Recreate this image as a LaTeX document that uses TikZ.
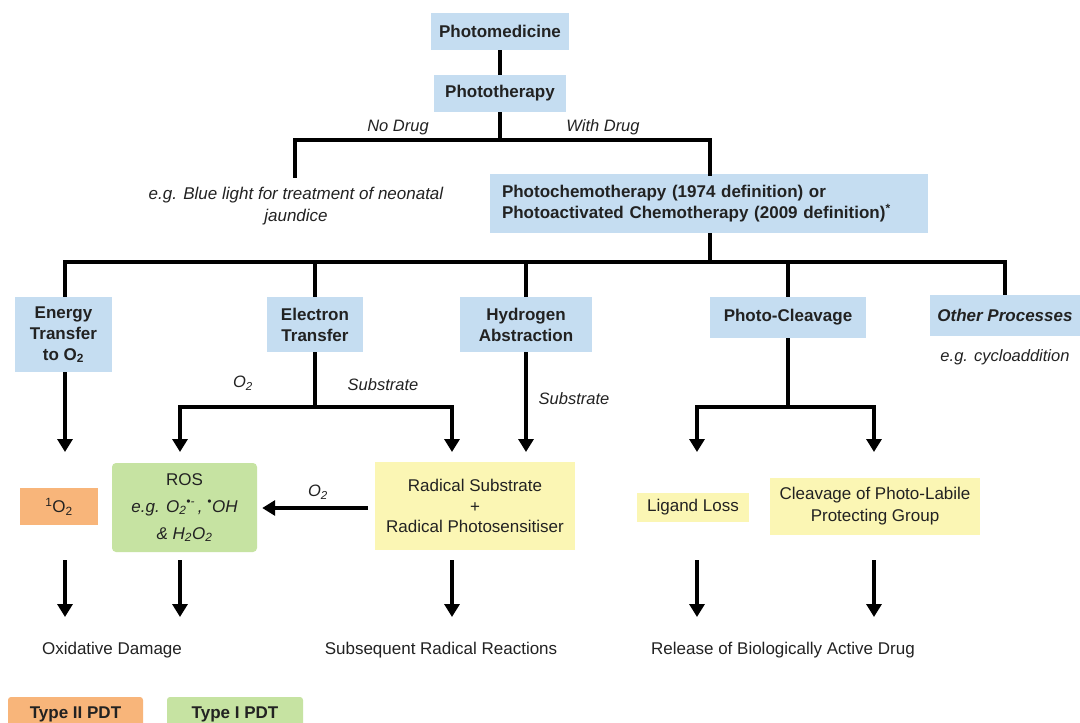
\documentclass[tikz,border=0pt]{standalone}
\usepackage{fontspec}
\setmainfont{Liberation Sans}
\usetikzlibrary{arrows.meta}
\definecolor{boxblue}{HTML}{C5DDF1}
\definecolor{boxorange}{HTML}{F8B57A}
\definecolor{boxgreen}{HTML}{C6E3A2}
\definecolor{boxyellow}{HTML}{FBF6B4}
\definecolor{txt}{HTML}{222222}
\begin{document}
\begin{tikzpicture}[x=1pt,y=-1pt,
  bx/.style={inner sep=0pt, align=center, text=txt, font=\fontsize{17}{21}\selectfont\bfseries},
  bluebox/.style={bx, fill=boxblue},
  plain/.style={inner sep=0pt, align=center, text=txt, font=\fontsize{17}{22}\selectfont},
  lab/.style={inner sep=0pt, text=txt, font=\fontsize{16.5}{20}\selectfont\itshape},
  ln/.style={line width=3.5pt, draw=black},
  arr/.style={ln, -{Triangle[length=13pt,width=15pt]}},
]
\useasboundingbox[fill=white] (0,0) rectangle (1080,723);

% top level
\node[bluebox, minimum width=138pt, minimum height=37pt] (pm) at (500,31.5) {Photomedicine};
\node[bluebox, minimum width=132pt, minimum height=37pt] (pt) at (500,93.5) {Phototherapy};
\node[plain, font=\fontsize{17}{22}\selectfont\itshape] (blue) at (296,206) {e.g. Blue light for treatment of neonatal\\jaundice};
\node[bluebox, align=left, text width=414pt, inner xsep=12pt, minimum height=59pt] (pc) at (709,203.5)
  {Photochemotherapy (1974 definition) or\\Photoactivated Chemotherapy (2009 definition)\textsuperscript{*}};

\draw[ln] (pm) -- (pt);
\coordinate (b1L) at (295,140);
\coordinate (b1R) at (710,140);
\coordinate (b1E) at (295,176);
\draw[ln] (pt.south) -- (pt.south |- b1L);
\draw[ln, line cap=rect] (b1E) -- (b1L) -- (b1R) -- (pc.north -| b1R);
\node[lab] (nodrug) at (398,128) {No Drug};
\node[lab] (withdrug) at (603,127) {With Drug};

% second level
\node[bluebox, minimum width=97pt, minimum height=75pt] (en) at (63.5,334.5) {Energy\\Transfer\\to O\textsubscript{2}};
\node[bluebox, minimum width=96pt, minimum height=55pt] (et) at (315,324.5) {Electron\\Transfer};
\node[bluebox, minimum width=132pt, minimum height=55pt] (ha) at (526,324.5) {Hydrogen\\Abstraction};
\node[bluebox, minimum width=156pt, minimum height=41pt] (pcl) at (788,317.5) {Photo-Cleavage};
\node[bluebox, font=\fontsize{17}{21}\selectfont\bfseries\itshape, minimum width=150pt, minimum height=41pt] (op) at (1005,315.5) {Other Processes};
\node[lab] (cyc) at (1005,357) {e.g. cycloaddition};

\coordinate (b2L) at (65,262);
\coordinate (b2R) at (1005,262);
\draw[ln] (pc.south -| b1R) -- (b1R |- b2L);
\draw[ln, line cap=rect] (b2L) -- (b2R);
\draw[ln] (b2L) -- (b2L |- en.north);
\draw[ln] (et.north |- b2L) -- (et.north);
\draw[ln] (ha.north |- b2L) -- (ha.north);
\draw[ln] (pcl.north |- b2L) -- (pcl.north);
\draw[ln] (b2R) -- (b2R |- op.north);

% third level nodes
\node[bx, fill=boxorange, font=\fontsize{17}{21}\selectfont, minimum width=78pt, minimum height=37pt] (so) at (59,506.5) {\textsuperscript{1}O\textsubscript{2}};
\node[bx, fill=boxgreen, rounded corners=4pt, font=\fontsize{17}{27}\selectfont, minimum width=145pt, minimum height=89pt] (ros) at (184.5,507.5)
  {ROS\\\textit{e.g. O\textsubscript{2}\textsuperscript{•-}\,, \textsuperscript{•}OH}\\\textit{\& H\textsubscript{2}O\textsubscript{2}}};
\node[bx, fill=boxyellow, font=\fontsize{17}{20.5}\selectfont, minimum width=200pt, minimum height=88pt] (rad) at (475,506)
  {Radical Substrate\\+\\Radical Photosensitiser};
\node[bx, fill=boxyellow, font=\fontsize{17}{21}\selectfont, minimum width=112pt, minimum height=29pt] (lig) at (693,507.5) {Ligand Loss};
\node[bx, fill=boxyellow, font=\fontsize{17}{22}\selectfont, minimum width=210pt, minimum height=57pt] (clv) at (875,506.5) {Cleavage of Photo-Labile\\Protecting Group};

% second to third level connectors
\coordinate (a1) at (65,452);
\draw[arr] (b2L |- en.south) -- (a1);

\coordinate (b3L) at (180,407);
\coordinate (b3R) at (452,407);
\coordinate (a2) at (180,452);
\coordinate (a3) at (452,452);
\draw[ln] (et.south) -- (et.south |- b3L);
\draw[ln, line cap=rect] (b3L) -- (b3R);
\draw[arr] (b3L) -- (a2);
\draw[arr] (b3R) -- (a3);
\node[lab] (o2a) at (243,383) {O\textsubscript{2}};
\node[lab] (sub1) at (383,385) {Substrate};

\coordinate (a4) at (526,452);
\draw[arr] (ha.south) -- (a4);
\node[lab] (sub2) at (574,399) {Substrate};

\coordinate (b4L) at (697,407);
\coordinate (b4R) at (874,407);
\coordinate (a5) at (697,452);
\coordinate (a6) at (874,452);
\draw[ln] (pcl.south) -- (pcl.south |- b4L);
\draw[ln, line cap=rect] (b4L) -- (b4R);
\draw[arr] (b4L) -- (a5);
\draw[arr] (b4R) -- (a6);

% radical to ROS
\coordinate (rs) at (368,508);
\draw[arr, shorten >=5pt] (rs) -- (rs -| ros.east);
\node[lab] (o2b) at (318,492) {O\textsubscript{2}};

% bottom arrows
\foreach \x/\n in {65/1,180/2,452/3,697/4,874/5}{
  \coordinate (s\n) at (\x,560);
  \coordinate (e\n) at (\x,617);
  \draw[arr] (s\n) -- (e\n);
}
\node[plain] (ox) at (112,650) {Oxidative Damage};
\node[plain] (sr) at (441,650) {Subsequent Radical Reactions};
\node[plain] (rel) at (783,650) {Release of Biologically Active Drug};

% legend
\node[bx, fill=boxorange, rounded corners=3pt, minimum width=135pt, minimum height=34pt] (t2) at (75.5,714) {Type II PDT};
\node[bx, fill=boxgreen, rounded corners=3pt, minimum width=136pt, minimum height=34pt] (t1) at (235,714) {Type I PDT};
\end{tikzpicture}
\end{document}
